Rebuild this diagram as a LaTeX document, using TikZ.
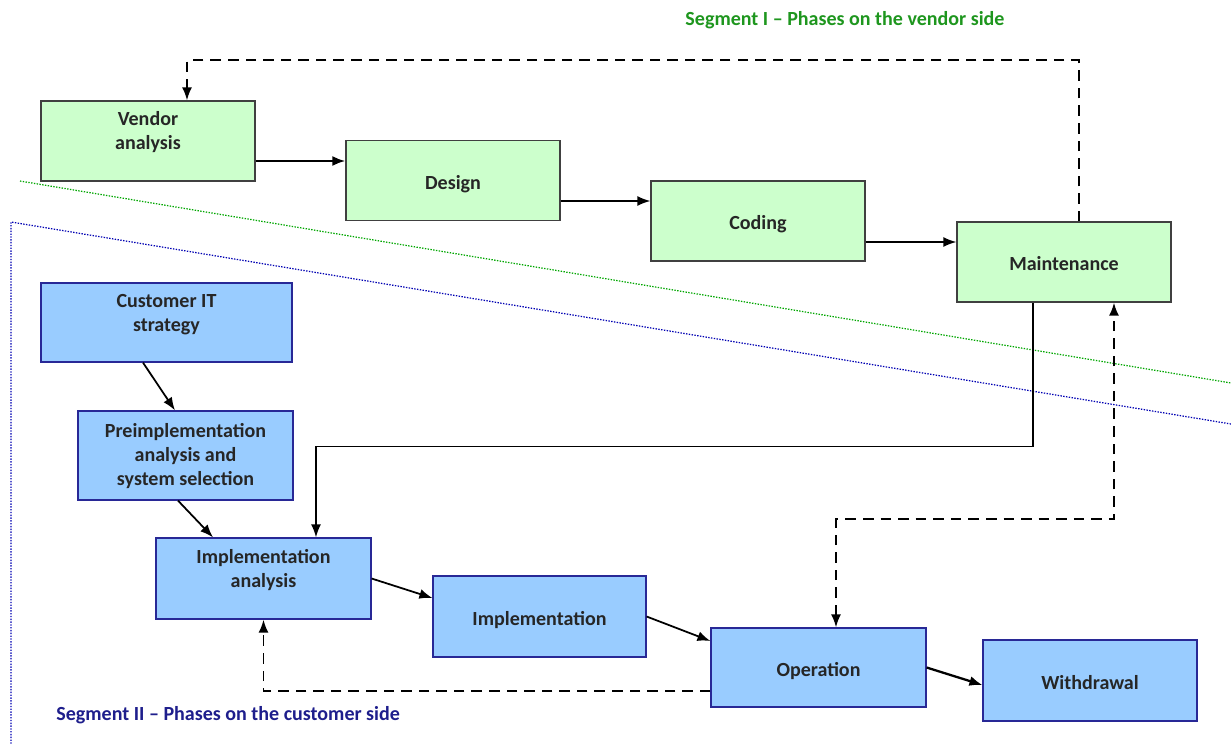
\documentclass[tikz,border=0pt]{standalone}
\usepackage{fontspec}
\setmainfont{Carlito}
\usetikzlibrary{arrows.meta}

\definecolor{vendorfill}{RGB}{204,255,204}
\definecolor{custfill}{RGB}{153,204,255}
\definecolor{custline}{RGB}{40,40,150}
\definecolor{vendortext}{RGB}{30,150,30}
\definecolor{custtext}{RGB}{30,30,140}

\begin{document}
\begin{tikzpicture}[x=0.02cm,y=-0.02cm,
  vendorbox/.style={rectangle,draw=black!75,line width=.7pt,fill=vendorfill,
    minimum width=4.28cm,minimum height=1.6cm,align=center,
    font=\fontsize{11.4}{13.6}\selectfont\bfseries,text=black!85,
    text height=11pt,text depth=1.2pt},
  custbox/.style={vendorbox,draw=custline,fill=custfill},
  flow/.style={-{Latex[length=2.6mm,width=2mm]},line width=1pt},
  back/.style={flow,line width=1.1pt,dash pattern=on 6pt off 4pt},
  both/.style={back,{Latex[length=2.6mm,width=2mm]}-{Latex[length=2.6mm,width=2mm]}},
  segtitle/.style={font=\fontsize{11.4}{13}\selectfont\bfseries},
  divider/.style={line width=.7pt,dash pattern=on .8pt off .8pt}]

\useasboundingbox (0,0) rectangle (1231,744);

% segment borders
\draw [divider,green!65!black] (20,181) -- (1231,383);
\draw [divider,blue!70!black] (1231,424) -- (11,222) -- (11,744);

\node [segtitle,text=vendortext] (segone) at (845,20) {Segment I – Phases on the vendor side};
\node [segtitle,text=custtext,anchor=west,inner sep=0pt] (segtwo) at (56,715) {Segment II – Phases on the customer side};

%-----------------------------------------------------
\node [vendorbox] (vendor) at (148,141) {Vendor\\analysis};
\node [vendorbox] (design) at (453,180.5) {Design};
\node [vendorbox] (coding) at (758,221) {Coding};
\node [vendorbox] (maint) at (1064,262) {Maintenance};

\node [custbox,minimum width=5.02cm,minimum height=1.58cm] (strategy) at (166.5,322.5) {Customer IT\\strategy};
\node [custbox,minimum width=4.3cm,minimum height=1.78cm,text height=35pt,text depth=1.4pt] (preimpl) at (185.5,455.5) {Preimplementation\\analysis and\\system selection};
\node [custbox,minimum width=4.3cm,minimum height=1.62cm] (implan) at (263.5,578.5) {Implementation\\analysis};
\node [custbox,minimum width=4.26cm,minimum height=1.62cm] (impl) at (539.5,616.5) {Implementation};
\node [custbox,minimum width=4.3cm,minimum height=1.58cm] (oper) at (818.5,667.5) {Operation};
\node [custbox,minimum width=4.28cm,minimum height=1.62cm] (withdraw) at (1090,680.5) {Withdrawal};

%-----------------------------------------------------
\draw [flow,line width=1.3pt] ([yshift=-.4cm]vendor.east) -- ([yshift=-.4cm]vendor.east -| design.west);
\draw [flow] ([yshift=-.41cm]design.east) -- ([yshift=-.41cm]design.east -| coding.west);
\draw [flow] ([yshift=-.42cm]coding.east) -- ([yshift=-.42cm]coding.east -| maint.west);

\draw [back] ([xshift=.3cm]maint.north) -- ++(0,-161) -| ([xshift=.78cm]vendor.north);
\draw [flow] ([xshift=-.62cm]maint.south) -- ++(0,144) -| ([xshift=1.05cm]implan.north);

\draw [flow] ([xshift=-.47cm]strategy.south) -- ([xshift=-.21cm]preimpl.north);
\draw [flow] ([xshift=-.15cm]preimpl.south) -- ([xshift=-1.01cm]implan.north);
\draw [flow] (implan.east) -- ([yshift=.37cm]impl.west);
\draw [flow] (impl.east) -- ([yshift=.53cm]oper.west);
\draw [flow,line width=1.3pt] (oper.east) -- ([yshift=-.09cm]withdraw.west);

\draw [both] ([xshift=.35cm]oper.north) -- ++(0,-108) -| ([xshift=1cm]maint.south);
\draw [back] ([yshift=-.47cm]oper.west) -| (implan.south);

\end{tikzpicture}
\end{document}
